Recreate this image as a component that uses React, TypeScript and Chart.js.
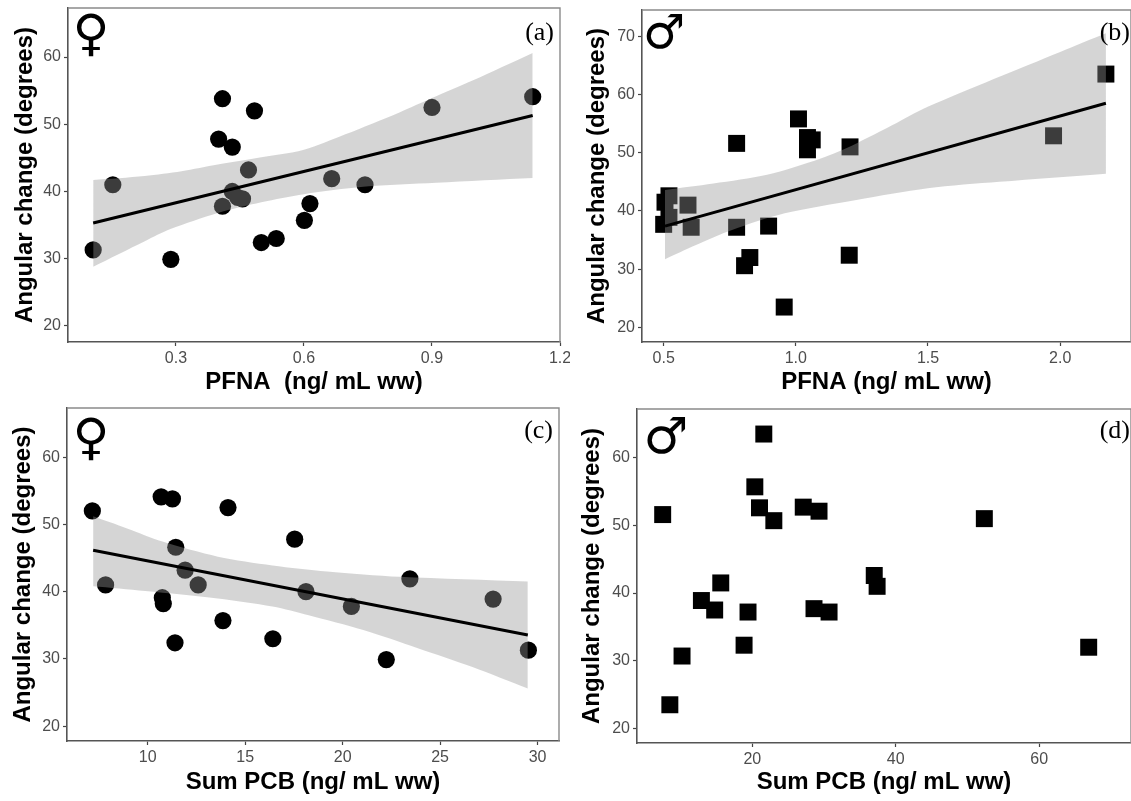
import React, { useEffect, useRef } from "react";
import { Chart, registerables } from "chart.js";

Chart.register(...registerables);

type P = { x: number; y: number };
const pts = (xs: number[], ys: number[]): P[] => xs.map((x, i) => ({ x, y: ys[i] }));

// Panel (a)
const aX = [0.106, 0.152, 0.288, 0.4, 0.409, 0.409, 0.432, 0.432, 0.445, 0.456, 0.47, 0.484, 0.5, 0.535, 0.601, 0.614, 0.665, 0.743, 0.9, 1.136];
const aY = [31.3, 41, 29.9, 47.8, 53.8, 37.8, 46.6, 40, 39.1, 38.9, 43.2, 52, 32.4, 33, 35.7, 38.2, 41.9, 41, 52.5, 54.1];
const aLineX = [0.106, 1.136];
const aLineY = [35.3, 51.3];
const aUpX = [0.106, 0.227, 0.313, 0.398, 0.483, 0.6, 0.697, 0.825, 0.9, 0.995, 1.136];
const aUpY = [41.7, 42.3, 43, 44, 44.9, 46.2, 48.5, 51.8, 53.9, 56.5, 60.6];
const aLoX = [0.106, 0.227, 0.287, 0.398, 0.5, 0.6, 0.739, 0.91, 1.136];
const aLoY = [28.8, 32.6, 34.4, 36.8, 38.4, 39.6, 40.7, 41.3, 42];

// Panel (b)
const bX = [2.173, 1.975, 1.01, 1.044, 1.062, 1.044, 0.776, 1.205, 0.897, 0.776, 0.604, 0.592, 0.956, 0.826, 0.806, 1.202, 0.52, 0.505, 0.52, 0.5];
const bY = [63.5, 52.9, 55.8, 52.6, 52.2, 50.5, 51.6, 51, 37.4, 37.2, 37.2, 41, 23.5, 32, 30.6, 32.4, 42.6, 41.5, 38.9, 37.7];
const bLineX = [0.505, 2.173];
const bLineY = [37.4, 58.5];
const bUpX = [0.505, 0.688, 0.891, 1.094, 1.229, 1.364, 1.499, 2.0, 2.173];
const bUpY = [43.6, 44.7, 46.2, 49, 51.6, 54.7, 57.9, 67.3, 70.5];
const bLoX = [0.505, 0.62, 0.756, 0.958, 1.229, 1.499, 1.77, 2.173];
const bLoY = [31.7, 34.1, 36.7, 39.6, 41.9, 43.9, 45, 46.4];

// Panel (c)
const cX = [7.16, 7.84, 10.69, 11.27, 14.12, 11.44, 11.92, 12.59, 10.75, 10.8, 13.86, 11.4, 16.42, 17.54, 18.12, 20.45, 22.24, 23.45, 27.72, 29.53];
const cY = [52, 41, 54.1, 53.8, 52.5, 46.6, 43.2, 41, 39.1, 38.2, 35.7, 32.4, 33, 47.8, 40, 37.8, 29.9, 41.9, 38.9, 31.3];
const cLineX = [7.2, 29.5];
const cLineY = [46.15, 33.55];
const cUpX = [7.2, 8.94, 10.8, 13.6, 16.4, 19.2, 22.93, 29.5];
const cUpY = [51.2, 49.4, 47.4, 45.2, 43.9, 43, 42.2, 41.5];
const cLoX = [7.2, 9.87, 13.6, 16.4, 18.26, 21.06, 23.86, 26.66, 29.5];
const cLoY = [40.8, 40.1, 39, 37.8, 36.5, 34.3, 31.6, 28.8, 25.6];

// Panel (d)
const dX = [21.6, 20.35, 21, 23, 27.1, 29.3, 7.5, 52.35, 15.6, 37, 37.4, 12.9, 14.75, 19.4, 28.6, 30.7, 18.85, 10.2, 8.5, 66.9];
const dY = [63.5, 55.7, 52.6, 50.7, 52.7, 52.1, 51.6, 51, 41.5, 42.6, 41, 38.9, 37.5, 37.2, 37.7, 37.2, 32.3, 30.7, 23.5, 32];

// Axis ticks and titles
const yTitle = "Angular change (degrees)";
const aTicksX = [0.3, 0.6, 0.9, 1.2];
const bTicksX = [0.5, 1.0, 1.5, 2.0];
const cTicksX = [10, 15, 20, 25, 30];
const dTicksX = [20, 40, 60];
const femaleTicksY = [20, 30, 40, 50, 60];
const bTicksY = [20, 30, 40, 50, 60, 70];
const FEMALE = "\u2640";
const MALE = "\u2642";

type Panel = {
  box: [number, number, number, number];
  plot: [number, number, number, number];
  xRange: [number, number];
  yRange: [number, number];
  xTicks: number[];
  yTicks: number[];
  decimals: number;
  xTitle: string;
  titleInset: number;
  tag: string;
  tagAt: [number, number];
  symbol: string;
  symbolAt: [number, number];
  symbolSize: number;
  pointStyle: string;
  radius: number;
  points: P[];
  line?: P[];
  upper?: P[];
  lower?: P[];
};

const panels: Panel[] = [
  {
    box: [0, 0, 570, 398], plot: [68, 8, 560, 342], xRange: [0.047, 1.2], yRange: [17.6, 67.3],
    xTicks: aTicksX, yTicks: femaleTicksY, decimals: 1, xTitle: "PFNA  (ng/ mL ww)", titleInset: 11,
    tag: "(a)", tagAt: [554, 33], symbol: FEMALE, symbolAt: [91, 37], symbolSize: 50,
    pointStyle: "circle", radius: 8.6, points: pts(aX, aY), line: pts(aLineX, aLineY), upper: pts(aUpX, aUpY), lower: pts(aLoX, aLoY),
  },
  {
    box: [572, 0, 559, 398], plot: [642, 10, 1131, 342], xRange: [0.418, 2.268], yRange: [17.5, 74.5],
    xTicks: bTicksX, yTicks: bTicksY, decimals: 1, xTitle: "PFNA (ng/ mL ww)", titleInset: 11,
    tag: "(b)", tagAt: [1130, 33], symbol: MALE, symbolAt: [664, 36], symbolSize: 47,
    pointStyle: "rect", radius: 12, points: pts(bX, bY), line: pts(bLineX, bLineY), upper: pts(bUpX, bUpY), lower: pts(bLoX, bLoY),
  },
  {
    box: [0, 400, 570, 398], plot: [67, 408, 559, 741], xRange: [5.86, 31.1], yRange: [17.8, 67.3],
    xTicks: cTicksX, yTicks: femaleTicksY, decimals: 0, xTitle: "Sum PCB (ng/ mL ww)", titleInset: 9,
    tag: "(c)", tagAt: [553, 431], symbol: FEMALE, symbolAt: [91, 441], symbolSize: 50,
    pointStyle: "circle", radius: 8.6, points: pts(cX, cY), line: pts(cLineX, cLineY), upper: pts(cUpX, cUpY), lower: pts(cLoX, cLoY),
  },
  {
    box: [568, 400, 563, 398], plot: [637, 409, 1131, 743], xRange: [3.92, 72.8], yRange: [17.85, 67.2],
    xTicks: dTicksX, yTicks: femaleTicksY, decimals: 0, xTitle: "Sum PCB (ng/ mL ww)", titleInset: 10,
    tag: "(d)", tagAt: [1130, 431], symbol: MALE, symbolAt: [666, 440], symbolSize: 50,
    pointStyle: "rect", radius: 12, points: pts(dX, dY),
  },
];

const BAND = "rgba(150,150,150,0.4)";
const TICK_FONT = { family: "'Liberation Sans', Arial, sans-serif", size: 16 };
const TITLE_FONT = { family: "'Liberation Sans', Arial, sans-serif", size: 24, weight: "bold" as const };

function noPadding(s: any) {
  s.paddingTop = 0;
  s.paddingBottom = 0;
  s.paddingLeft = 0;
  s.paddingRight = 0;
}

function build(canvas: HTMLCanvasElement, p: Panel): Chart {
  const [bl, bt, bw, bh] = p.box;
  const [pl, pt, pr, pb] = p.plot;
  const datasets: any[] = [
    { label: "points", data: p.points, pointStyle: p.pointStyle, pointRadius: p.radius, backgroundColor: "#000", borderWidth: 0, pointBorderWidth: 0, order: 3, clip: false },
  ];
  if (p.upper && p.lower && p.line) {
    datasets.push(
      { label: "upper", data: p.upper, showLine: true, tension: 0.3, pointRadius: 0, borderWidth: 0, borderColor: "transparent", backgroundColor: BAND, fill: "+1", order: 2 },
      { label: "lower", data: p.lower, showLine: true, tension: 0.3, pointRadius: 0, borderWidth: 0, borderColor: "transparent", fill: false, order: 2 },
      { label: "fit", data: p.line, showLine: true, pointRadius: 0, borderWidth: 3, borderColor: "#000", fill: false, order: 1 },
    );
  }
  const axis = (ticks: number[]) => ({
    afterBuildTicks: (s: any) => { s.ticks = ticks.map((value) => ({ value })); },
    grid: { drawOnChartArea: false, drawTicks: true, tickLength: 4, tickWidth: 1.2, tickColor: "#444" },
    border: { display: true, color: "#555", width: 1.6 },
  });
  return new Chart(canvas, {
    type: "scatter",
    data: { datasets },
    options: {
      animation: false,
      responsive: false,
      devicePixelRatio: 1,
      layout: { autoPadding: false, padding: { top: pt - bt, right: bl + bw - pr, left: 0, bottom: 0 } },
      plugins: { legend: { display: false }, tooltip: { enabled: false } },
      scales: {
        x: {
          type: "linear", min: p.xRange[0], max: p.xRange[1],
          ...axis(p.xTicks),
          afterFit: (s: any) => { s.height = bt + bh - pb; noPadding(s); },
          ticks: { font: TICK_FONT, color: "#4d4d4d", maxRotation: 0, autoSkip: false, padding: 3, callback: (v: any) => Number(v).toFixed(p.decimals) },
          title: { display: true, text: p.xTitle, color: "#000", font: TITLE_FONT, padding: { top: 0, bottom: 1 } },
        },
        y: {
          type: "linear", min: p.yRange[0], max: p.yRange[1],
          ...axis(p.yTicks),
          afterFit: (s: any) => { s.width = pl - bl; noPadding(s); },
          ticks: { font: TICK_FONT, color: "#4d4d4d", autoSkip: false, padding: 3, callback: (v: any) => String(v) },
          title: { display: true, text: yTitle, color: "#000", font: TITLE_FONT, padding: { top: p.titleInset, bottom: 0 } },
        },
      },
    },
    plugins: [
      {
        id: "frame",
        afterDraw(chart: Chart) {
          const { ctx, chartArea: a } = chart;
          ctx.save();
          ctx.strokeStyle = "#8a8a8a";
          ctx.lineWidth = 1.4;
          ctx.beginPath();
          ctx.moveTo(a.left, a.top);
          ctx.lineTo(a.right, a.top);
          ctx.lineTo(a.right, a.bottom);
          ctx.stroke();
          ctx.fillStyle = "#000";
          ctx.textBaseline = "middle";
          ctx.font = "26px 'Liberation Serif', serif";
          ctx.textAlign = "right";
          ctx.fillText(p.tag, p.tagAt[0] - bl, p.tagAt[1] - bt);
          ctx.font = `bold ${p.symbolSize}px 'DejaVu Sans', sans-serif`;
          ctx.textAlign = "center";
          ctx.fillText(p.symbol, p.symbolAt[0] - bl, p.symbolAt[1] - bt);
          ctx.restore();
        },
      },
    ],
  } as any);
}

function PanelChart({ panel }: { panel: Panel }) {
  const ref = useRef<HTMLCanvasElement>(null);
  useEffect(() => {
    const chart = build(ref.current!, panel);
    return () => chart.destroy();
  }, [panel]);
  const [l, t, w, h] = panel.box;
  return <canvas ref={ref} width={w} height={h} style={{ position: "absolute", left: l, top: t, width: w, height: h, display: "block" }} />;
}

export default function App() {
  return (
    <div style={{ position: "absolute", left: 0, top: 0, width: 1131, height: 801, overflow: "hidden", background: "#fff" }}>
      {panels.map((panel) => (
        <PanelChart key={panel.tag} panel={panel} />
      ))}
    </div>
  );
}
